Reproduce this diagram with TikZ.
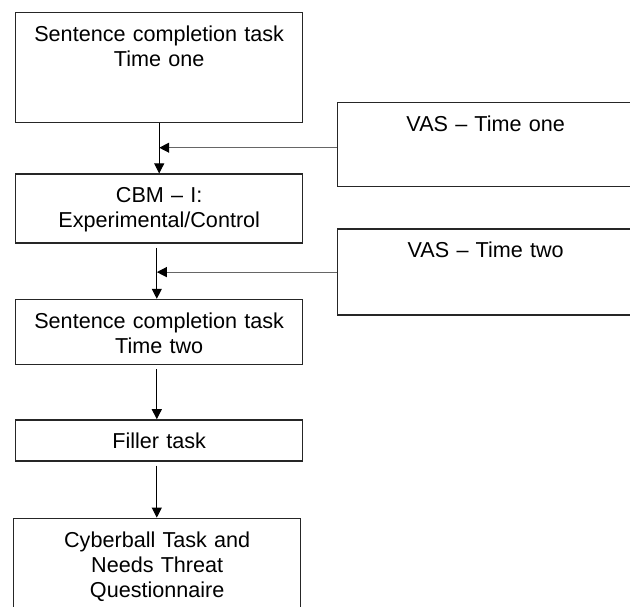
\documentclass[tikz,border=0pt]{standalone}
\usepackage{fontspec}
\setmainfont{Liberation Sans}
\usepackage{tikz}
\usetikzlibrary{positioning,arrows.meta}

\begin{document}
\begin{tikzpicture}[
    font=\fontsize{10.8pt}{12.5pt}\selectfont,
    stage/.style={draw=black!85, line width=0.7pt, text width=143.5pt, align=center,
                  inner xsep=0pt, inner ysep=0pt, text height=14.4pt, anchor=north},
    rating/.style={stage, text width=148pt},
    flow/.style={-{Triangle[length=5pt,width=5pt]}, line width=0.5pt},
    feed/.style={-{Triangle[length=5pt,width=5pt,color=black]}, draw=black!60, line width=0.6pt}
  ]
            \clip (0,0) rectangle (315pt,-303pt);

            \node[stage, anchor=north west, text depth=40.6pt] (sct1) at (7.5pt,-6pt) {Sentence completion task\\Time one};
            \node[stage, below=25pt of sct1, text depth=20.1pt]     (cbm) {CBM -- I:\\Experimental/Control};
            \node[stage, below=27.5pt of cbm, text depth=18.1pt]    (sct2) {Sentence completion task\\Time two};
            \node[stage, below=27pt of sct2, text depth=6.1pt]      (filler) {Filler task};
            \node[stage, below=28pt of filler, xshift=-1pt, text depth=45.6pt] (cyber) {Cyberball Task and\\Needs Threat\\Questionnaire};
            \node[rating, anchor=north west, text depth=27.6pt] (vas1) at (168.5pt,-51pt) {VAS -- Time one};
            \node[rating, below=20.5pt of vas1, text depth=28.6pt]  (vas2) {VAS -- Time two};

            \coordinate (in1) at ([yshift=-1.5pt]vas1.west);
            \coordinate (mid2) at ([xshift=-1.2pt,yshift=-2pt]cbm.south);
            \coordinate (mid3) at ([xshift=-1.2pt,yshift=-2pt]sct2.south);
            \coordinate (mid4) at ([xshift=-1.2pt,yshift=-2pt]filler.south);

            \draw[flow] (sct1) -- (cbm);
            \draw[flow] (mid2) -- (mid2 |- sct2.north);
            \draw[flow] (mid3) -- (mid3 |- filler.north);
            \draw[flow] (mid4) -- (mid4 |- cyber.north);
            \draw[feed] (in1) -- (in1 -| sct1.south);
            \draw[feed] (vas2.west) -- (vas2.west -| mid2);
        \end{tikzpicture}
\end{document}
